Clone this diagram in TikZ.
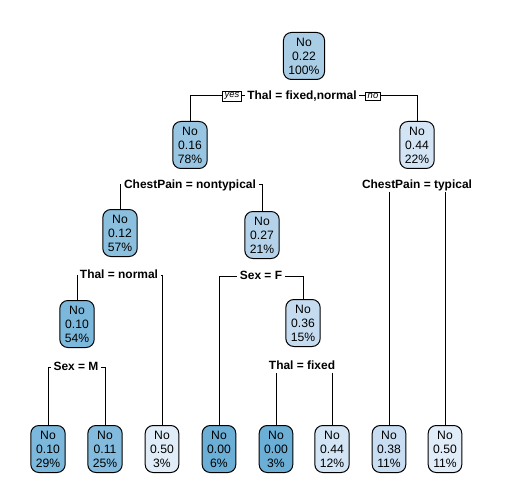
\documentclass[tikz,border=0pt]{standalone}
\usepackage{fontspec}
\setmainfont{Liberation Sans}

% Fill colours, by fitted value
\definecolor{c00}{RGB}{107,174,214}
\definecolor{c10}{RGB}{124,184,219}
\definecolor{c11}{RGB}{130,187,221}
\definecolor{c12}{RGB}{138,191,222}
\definecolor{c16}{RGB}{152,198,226}
\definecolor{c22}{RGB}{170,205,230}
\definecolor{c27}{RGB}{180,211,234}
\definecolor{c36}{RGB}{197,219,240}
\definecolor{c38}{RGB}{200,221,241}
\definecolor{c44}{RGB}{211,228,244}
\definecolor{c50}{RGB}{224,236,248}

\begin{document}
\begin{tikzpicture}[x=1bp, y=-1bp,
	treenode/.style={draw, rounded corners=8bp, line width=1bp, align=center,
		inner xsep=5bp, minimum height=47bp, font=\fontsize{12.2}{14}\selectfont},
	splitlabel/.style={inner xsep=2.5bp, inner ysep=1bp, text height=9bp, text depth=2.5bp,
		font=\bfseries\fontsize{12}{14}\selectfont},
	yesno/.style={draw, line width=0.7bp, inner xsep=2bp, inner ysep=1.5bp,
		font=\itshape\fontsize{9.5}{10}\selectfont},
	edge/.style={line width=1bp}]
	
	% Page area
	\fill[white] (0,0) rectangle (504,504);
	\useasboundingbox (0,0) rectangle (504,504);
	
	% Draw the inner nodes
	\node[treenode, fill=c22] (root) at (304,56) {No\\0.22\\100\%};
	\node[treenode, fill=c16] (n2) at (190,145) {No\\0.16\\78\%};
	\node[treenode, fill=c44] (n3) at (417,145) {No\\0.44\\22\%};
	\node[treenode, fill=c12] (n4) at (120,233) {No\\0.12\\57\%};
	\node[treenode, fill=c27] (n5) at (262,235) {No\\0.27\\21\%};
	\node[treenode, fill=c10] (n8) at (77,324) {No\\0.10\\54\%};
	\node[treenode, fill=c36] (n11) at (303,323) {No\\0.36\\15\%};
	
	% Draw the leaves along the bottom row
	\foreach \name/\x/\val/\pct/\col in {l1/48/0.10/29/c10, l2/105/0.11/25/c11,
		l3/162/0.50/3/c50, l4/219/0.00/6/c00, l5/276/0.00/3/c00, l6/332/0.44/12/c44,
		l7/389/0.38/11/c38, l8/445/0.50/11/c50} {
		\node[treenode, fill=\col] (\name) at (\x,449) {No\\\val\\\pct\%};
	}
	
	% Split labels
	\node[splitlabel] (s1) at (302,96) {Thal = fixed,normal};
	\node[yesno] (yes) at (232,96) {yes};
	\node[yesno] (no) at (373,96) {no};
	\node[splitlabel] (s2) at (190,185) {ChestPain = nontypical};
	\node[splitlabel] (s3) at (417,185) {ChestPain = typical};
	\node[splitlabel] (s4) at (119,275) {Thal = normal};
	\node[splitlabel] (s5) at (261,276) {Sex = F};
	\node[splitlabel] (s6) at (76,367) {Sex = M};
	\node[splitlabel] (s7) at (302,366) {Thal = fixed};
	
	% Connect each split to its children
	\draw[edge] (n2.north) |- (yes.west);
	\draw[edge] (yes.east) -- (s1.west);
	\draw[edge] (s1.east) -- (no.west);
	\draw[edge] (no.east) -| (n3.north);
	
	\draw[edge] (n4.north) |- (s2.west);
	\draw[edge] (n5.north) |- (s2.east);
	
	\draw[edge] (l7.north) -- (l7.north |- s3.south);
	\draw[edge] (l8.north) -- (l8.north |- s3.south);
	
	\draw[edge] (n8.north) |- (s4.west);
	\draw[edge] (l3.north) |- (s4.east);
	
	\draw[edge] (l4.north) |- (s5.west);
	\draw[edge] (n11.north) |- (s5.east);
	
	\draw[edge] (l1.north) |- (s6.west);
	\draw[edge] (l2.north) |- (s6.east);
	
	\draw[edge] (l5.north) -- (l5.north |- s7.south);
	\draw[edge] (l6.north) -- (l6.north |- s7.south);
	
\end{tikzpicture}
\end{document}
